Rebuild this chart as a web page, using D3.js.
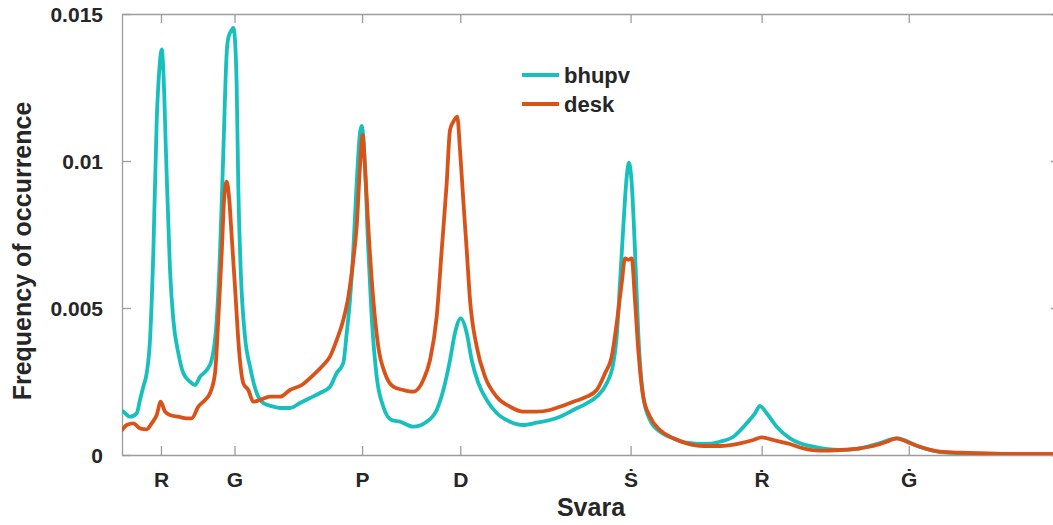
<!DOCTYPE html>
<html>
<head>
<meta charset="utf-8">
<script src="https://cdn.jsdelivr.net/npm/d3@7"></script>
<style>
  html, body { margin: 0; padding: 0; background: #fff; }
  svg { display: block; }
  text { font-family: "Liberation Sans", Arial, Helvetica, sans-serif; font-weight: bold; fill: #262626; }
</style>
</head>
<body>
<svg id="chart" width="1053" height="525"></svg>
<script>
// Pitch axis: frequency relative to the tonic (linear in frequency)
const xDomain = [1.0497, 2.8024];
const yDomain = [0, 0.015];

// Svara tick positions (equal-tempered ratios to Sa) and their labels
const svaraLabels = ["R", "G", "P", "D", "Ṡ", "Ṙ", "Ġ"];
const svaraRatios = [1.1225, 1.2599, 1.4983, 1.6818, 2.0, 2.2449, 2.5198];

const yTicks = [0, 0.005, 0.01, 0.015];
const yTickLabels = ["0", "0.005", "0.01", "0.015"];

const seriesNames = ["bhupv", "desk"];
const seriesColors = ["#17BFBD", "#D95319"];

// bhupv pitch histogram
const bhupvRatio = [
  1.0497, 1.0521, 1.0647, 1.0772, 1.0833, 1.0895, 1.0959, 1.1020, 1.1082, 1.1146,
  1.1194, 1.1239, 1.1269, 1.1319, 1.1394, 1.1456, 1.1549, 1.1642, 1.1768, 1.1861,
  1.1955, 1.2080, 1.2173, 1.2267, 1.2328, 1.2390, 1.2453, 1.2483, 1.2547, 1.2577,
  1.2608, 1.2640, 1.2670, 1.2715, 1.2795, 1.2889, 1.3014, 1.3137, 1.3324, 1.3449,
  1.3636, 1.3823, 1.4010, 1.4197, 1.4383, 1.4509, 1.4632, 1.4696, 1.4757, 1.4819,
  1.4882, 1.4944, 1.4976, 1.5037, 1.5099, 1.5162, 1.5256, 1.5380, 1.5536, 1.5691,
  1.5940, 1.6190, 1.6377, 1.6501, 1.6626, 1.6719, 1.6826, 1.6938, 1.7031, 1.7155,
  1.7312, 1.7498, 1.7747, 1.7995, 1.8246, 1.8494, 1.8681, 1.8930, 1.9180, 1.9367,
  1.9554, 1.9677, 1.9741, 1.9802, 1.9864, 1.9928, 1.9970, 2.0021, 2.0082, 2.0144,
  2.0237, 2.0363, 2.0549, 2.0798, 2.1048, 2.1358, 2.1671, 2.1919, 2.2169, 2.2325,
  2.2418, 2.2543, 2.2730, 2.2979, 2.3166, 2.3414, 2.3913, 2.4287, 2.4661, 2.4978,
  2.5408, 2.5781, 2.6342, 2.6903, 2.7463, 2.8024
];
const bhupvFreq = [
  0.001500, 0.001473, 0.001303, 0.001418, 0.001871, 0.002323, 0.002789, 0.003912, 0.006871, 0.011395,
  0.013095, 0.013799, 0.013095, 0.010272, 0.006293, 0.004592, 0.003469, 0.002789, 0.002493, 0.002381,
  0.002663, 0.002891, 0.003231, 0.004592, 0.006871, 0.010272, 0.013673, 0.014184, 0.014456, 0.014524,
  0.014116, 0.012527, 0.009126, 0.006293, 0.004024, 0.003003, 0.002109, 0.001769, 0.001643, 0.001599,
  0.001599, 0.001769, 0.001939, 0.002109, 0.002323, 0.002789, 0.003129, 0.004150, 0.005272, 0.006973,
  0.009252, 0.010952, 0.011191, 0.009806, 0.006973, 0.004704, 0.002663, 0.001643, 0.001190, 0.001133,
  0.000963, 0.001133, 0.001531, 0.002211, 0.003231, 0.004150, 0.004650, 0.004150, 0.003231, 0.002449,
  0.001871, 0.001429, 0.001133, 0.001020, 0.001099, 0.001190, 0.001303, 0.001531, 0.001759, 0.001983,
  0.002439, 0.003119, 0.004024, 0.005850, 0.007765, 0.009466, 0.009942, 0.009241, 0.006973, 0.004150,
  0.001983, 0.001190, 0.000793, 0.000568, 0.000418, 0.000374, 0.000452, 0.000622, 0.001078, 0.001418,
  0.001667, 0.001418, 0.000963, 0.000568, 0.000398, 0.000282, 0.000170, 0.000228, 0.000408, 0.000568,
  0.000272, 0.000102, 0.000051, 0.000034, 0.000024, 0.000017
];

// desk pitch histogram
const deskRatio = [
  1.0497, 1.0585, 1.0708, 1.0833, 1.0959, 1.1052, 1.1146, 1.1220, 1.1301, 1.1394,
  1.1549, 1.1706, 1.1799, 1.1923, 1.2048, 1.2141, 1.2235, 1.2296, 1.2360, 1.2408,
  1.2453, 1.2502, 1.2547, 1.2608, 1.2689, 1.2764, 1.2857, 1.2951, 1.3076, 1.3262,
  1.3449, 1.3636, 1.3855, 1.4072, 1.4258, 1.4383, 1.4509, 1.4632, 1.4726, 1.4819,
  1.4882, 1.4944, 1.4994, 1.5037, 1.5099, 1.5193, 1.5286, 1.5411, 1.5566, 1.5753,
  1.5940, 1.6127, 1.6252, 1.6377, 1.6471, 1.6564, 1.6626, 1.6688, 1.6762, 1.6813,
  1.6874, 1.6938, 1.7000, 1.7125, 1.7280, 1.7498, 1.7747, 1.7995, 1.8246, 1.8494,
  1.8681, 1.8930, 1.9180, 1.9367, 1.9522, 1.9647, 1.9741, 1.9834, 1.9896, 1.9957,
  2.0021, 2.0082, 2.0144, 2.0237, 2.0363, 2.0549, 2.0798, 2.1048, 2.1358, 2.1671,
  2.2045, 2.2294, 2.2450, 2.2667, 2.2792, 2.2979, 2.3166, 2.3539, 2.3913, 2.4287,
  2.4599, 2.4785, 2.4972, 2.5160, 2.5408, 2.5781, 2.6155, 2.6654, 2.7145, 2.8024
];
const deskFreq = [
  0.000850, 0.001020, 0.001078, 0.000908, 0.000874, 0.001078, 0.001361, 0.001813, 0.001473, 0.001361,
  0.001303, 0.001248, 0.001248, 0.001643, 0.001871, 0.002099, 0.002779, 0.004592, 0.006871, 0.008786,
  0.009296, 0.008673, 0.007425, 0.005725, 0.003459, 0.002439, 0.002211, 0.001813, 0.001871, 0.001983,
  0.001983, 0.002211, 0.002381, 0.002721, 0.003061, 0.003344, 0.003912, 0.004592, 0.005384, 0.006633,
  0.007765, 0.009806, 0.010884, 0.009806, 0.007765, 0.005272, 0.003684, 0.002779, 0.002323, 0.002211,
  0.002153, 0.002551, 0.003231, 0.004704, 0.006973, 0.009241, 0.011054, 0.011337, 0.011507, 0.010374,
  0.008673, 0.006973, 0.005272, 0.003684, 0.002663, 0.001983, 0.001643, 0.001473, 0.001473, 0.001531,
  0.001643, 0.001813, 0.001983, 0.002211, 0.002779, 0.003344, 0.004480, 0.005840, 0.006691, 0.006640,
  0.006691, 0.005272, 0.003571, 0.001983, 0.001303, 0.000850, 0.000568, 0.000398, 0.000306, 0.000306,
  0.000398, 0.000510, 0.000602, 0.000510, 0.000452, 0.000374, 0.000255, 0.000146, 0.000170, 0.000228,
  0.000340, 0.000452, 0.000568, 0.000452, 0.000282, 0.000112, 0.000078, 0.000058, 0.000034, 0.000034
];

const plot = { left: 122, right: 1060, top: 14, bottom: 455 };
const tickLen = 9;
const axisColor = "#9c9c9c";

const svg = d3.select("#chart");

const x = d3.scaleLinear().domain(xDomain).range([plot.left, plot.right]);
const y = d3.scaleLinear().domain(yDomain).range([plot.bottom, plot.top]);

svg.append("defs").append("clipPath").attr("id", "plot-clip")
  .append("rect")
  .attr("x", plot.left).attr("y", plot.top - 10)
  .attr("width", plot.right - plot.left).attr("height", plot.bottom - plot.top + 10);

// Box axes with inward ticks
function styleAxis(g) {
  g.select(".domain").attr("stroke", axisColor).attr("stroke-width", 1.3);
  g.selectAll(".tick line").attr("stroke", axisColor).attr("stroke-width", 1.3);
}

const xBottom = svg.append("g")
  .attr("transform", `translate(0,${plot.bottom})`)
  .call(d3.axisBottom(x).tickValues(svaraRatios)
    .tickFormat((d, i) => svaraLabels[i]).tickSizeInner(-tickLen).tickSizeOuter(0).tickPadding(17));
styleAxis(xBottom);
xBottom.selectAll(".tick text")
  .attr("font-size", 21).attr("font-family", "Liberation Sans, Arial, sans-serif")
  .attr("font-weight", "bold").attr("fill", "#262626");

const xTop = svg.append("g")
  .attr("transform", `translate(0,${plot.top})`)
  .call(d3.axisTop(x).tickValues(svaraRatios).tickFormat("").tickSizeInner(-tickLen).tickSizeOuter(0));
styleAxis(xTop);

const yLeft = svg.append("g")
  .attr("transform", `translate(${plot.left},0)`)
  .call(d3.axisLeft(y).tickValues(yTicks)
    .tickFormat((d, i) => yTickLabels[i]).tickSizeInner(-tickLen).tickSizeOuter(0).tickPadding(19));
styleAxis(yLeft);
yLeft.selectAll(".tick text")
  .attr("font-size", 21).attr("font-family", "Liberation Sans, Arial, sans-serif")
  .attr("font-weight", "bold").attr("fill", "#262626").attr("dy", "0.36em");

const yRight = svg.append("g")
  .attr("transform", `translate(${plot.right},0)`)
  .call(d3.axisRight(y).tickValues(yTicks).tickFormat("").tickSizeInner(-tickLen).tickSizeOuter(0));
styleAxis(yRight);

// Series lines
const line = d3.line().curve(d3.curveMonotoneX).x(d => x(d[0])).y(d => y(d[1]));
const series = [
  d3.zip(bhupvRatio, bhupvFreq),
  d3.zip(deskRatio, deskFreq)
];

svg.append("g").attr("clip-path", "url(#plot-clip)")
  .selectAll("path")
  .data(series)
  .join("path")
  .attr("d", line)
  .attr("fill", "none")
  .attr("stroke", (d, i) => seriesColors[i])
  .attr("stroke-width", 3.8)
  .attr("stroke-linejoin", "round")
  .attr("stroke-linecap", "round");

// Axis titles
svg.append("text")
  .attr("x", 591).attr("y", 516)
  .attr("text-anchor", "middle")
  .attr("font-size", 25)
  .text("Svara");

svg.append("text")
  .attr("transform", "translate(31,251) rotate(-90)")
  .attr("text-anchor", "middle")
  .attr("font-size", 25)
  .text("Frequency of occurrence");

// Legend
const legend = svg.append("g");
seriesNames.forEach((name, i) => {
  const ly = 75 + i * 29;
  legend.append("line")
    .attr("x1", 522).attr("x2", 559)
    .attr("y1", ly).attr("y2", ly)
    .attr("stroke", seriesColors[i]).attr("stroke-width", 3.8);
  legend.append("text")
    .attr("x", 564).attr("y", ly + 8)
    .attr("font-size", 22)
    .text(name);
});
</script>
</body>
</html>
